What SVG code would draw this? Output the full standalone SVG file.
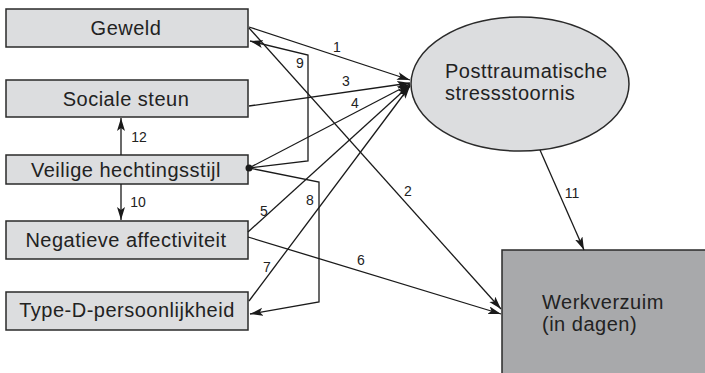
<svg xmlns="http://www.w3.org/2000/svg" width="705" height="373" viewBox="0 0 705 373">
<style>
.box{fill:#dcdddf;stroke:#2a2a2a;stroke-width:1.5}
.out{fill:#a8a9ab;stroke:#2a2a2a;stroke-width:1.5}
.t{font-family:"Liberation Sans",Arial,sans-serif;font-size:20px;fill:#222;letter-spacing:0.5px}
.c{text-anchor:middle}
.lbl{font-family:"Liberation Sans",Arial,sans-serif;font-size:14px;fill:#222;text-anchor:middle}
.ln{fill:none;stroke:#1a1a1a;stroke-width:1.3}
</style>
<defs>
<marker id="ah" markerUnits="userSpaceOnUse" markerWidth="14" markerHeight="10" refX="13" refY="4" orient="auto">
<path d="M0,0 L13,4 L0,8 L3,4 z" fill="#1a1a1a"/>
</marker>
</defs>
<g id="geweld"><rect class="box" x="6" y="9" width="242" height="38"/><text class="t c" x="126" y="35">Geweld</text></g>
<g id="sociale-steun"><rect class="box" x="6" y="80" width="242" height="37"/><text class="t c" x="126" y="106">Sociale steun</text></g>
<g id="veilige-hechtingsstijl"><rect class="box" x="6" y="155" width="242" height="29"/><text class="t c" x="126" y="177">Veilige hechtingsstijl</text></g>
<g id="negatieve-affectiviteit"><rect class="box" x="6" y="221" width="242" height="38"/><text class="t c" x="126" y="247">Negatieve affectiviteit</text></g>
<g id="type-d"><rect class="box" x="6" y="292" width="242" height="38"/><text class="t c" x="127" y="317">Type-D-persoonlijkheid</text></g>
<g id="ptss"><ellipse class="box" cx="520" cy="84" rx="109" ry="67"/><text class="t" x="445" y="78">Posttraumatische</text><text class="t" x="445" y="100">stressstoornis</text></g>
<g id="werkverzuim"><rect class="out" x="502" y="250" width="210" height="130"/><text class="t" x="542" y="309">Werkverzuim</text><text class="t" x="542" y="331">(in dagen)</text></g>
<g id="connectors">
<line class="ln" x1="249" y1="27" x2="410" y2="80" marker-end="url(#ah)"/>
<line class="ln" x1="249" y1="28" x2="501" y2="309" marker-end="url(#ah)"/>
<line class="ln" x1="249" y1="106" x2="410" y2="83" marker-end="url(#ah)"/>
<line class="ln" x1="249" y1="168" x2="410" y2="84" marker-end="url(#ah)"/>
<line class="ln" x1="248" y1="232" x2="410" y2="85" marker-end="url(#ah)"/>
<line class="ln" x1="248" y1="237" x2="501" y2="314" marker-end="url(#ah)"/>
<line class="ln" x1="249" y1="301" x2="410" y2="86" marker-end="url(#ah)"/>
<polyline class="ln" points="249,168 308,161 308,55 250,41" marker-end="url(#ah)"/>
<polyline class="ln" points="249,168 319,182 319,302 250,314" marker-end="url(#ah)"/>
<line class="ln" x1="121" y1="155" x2="121" y2="118" marker-end="url(#ah)"/>
<line class="ln" x1="121" y1="184" x2="121" y2="220" marker-end="url(#ah)"/>
<line class="ln" x1="540" y1="150" x2="584" y2="250" marker-end="url(#ah)"/>
<circle cx="249" cy="168" r="3.5" fill="#1a1a1a"/>
<text class="lbl" x="337" y="52">1</text>
<text class="lbl" x="408" y="196">2</text>
<text class="lbl" x="346" y="86">3</text>
<text class="lbl" x="355" y="108">4</text>
<text class="lbl" x="264" y="216">5</text>
<text class="lbl" x="361" y="265">6</text>
<text class="lbl" x="267" y="272">7</text>
<text class="lbl" x="310" y="205">8</text>
<text class="lbl" x="300" y="68">9</text>
<text class="lbl" x="138" y="207">10</text>
<text class="lbl" x="572" y="198">11</text>
<text class="lbl" x="139" y="142">12</text>
</g>
</svg>
